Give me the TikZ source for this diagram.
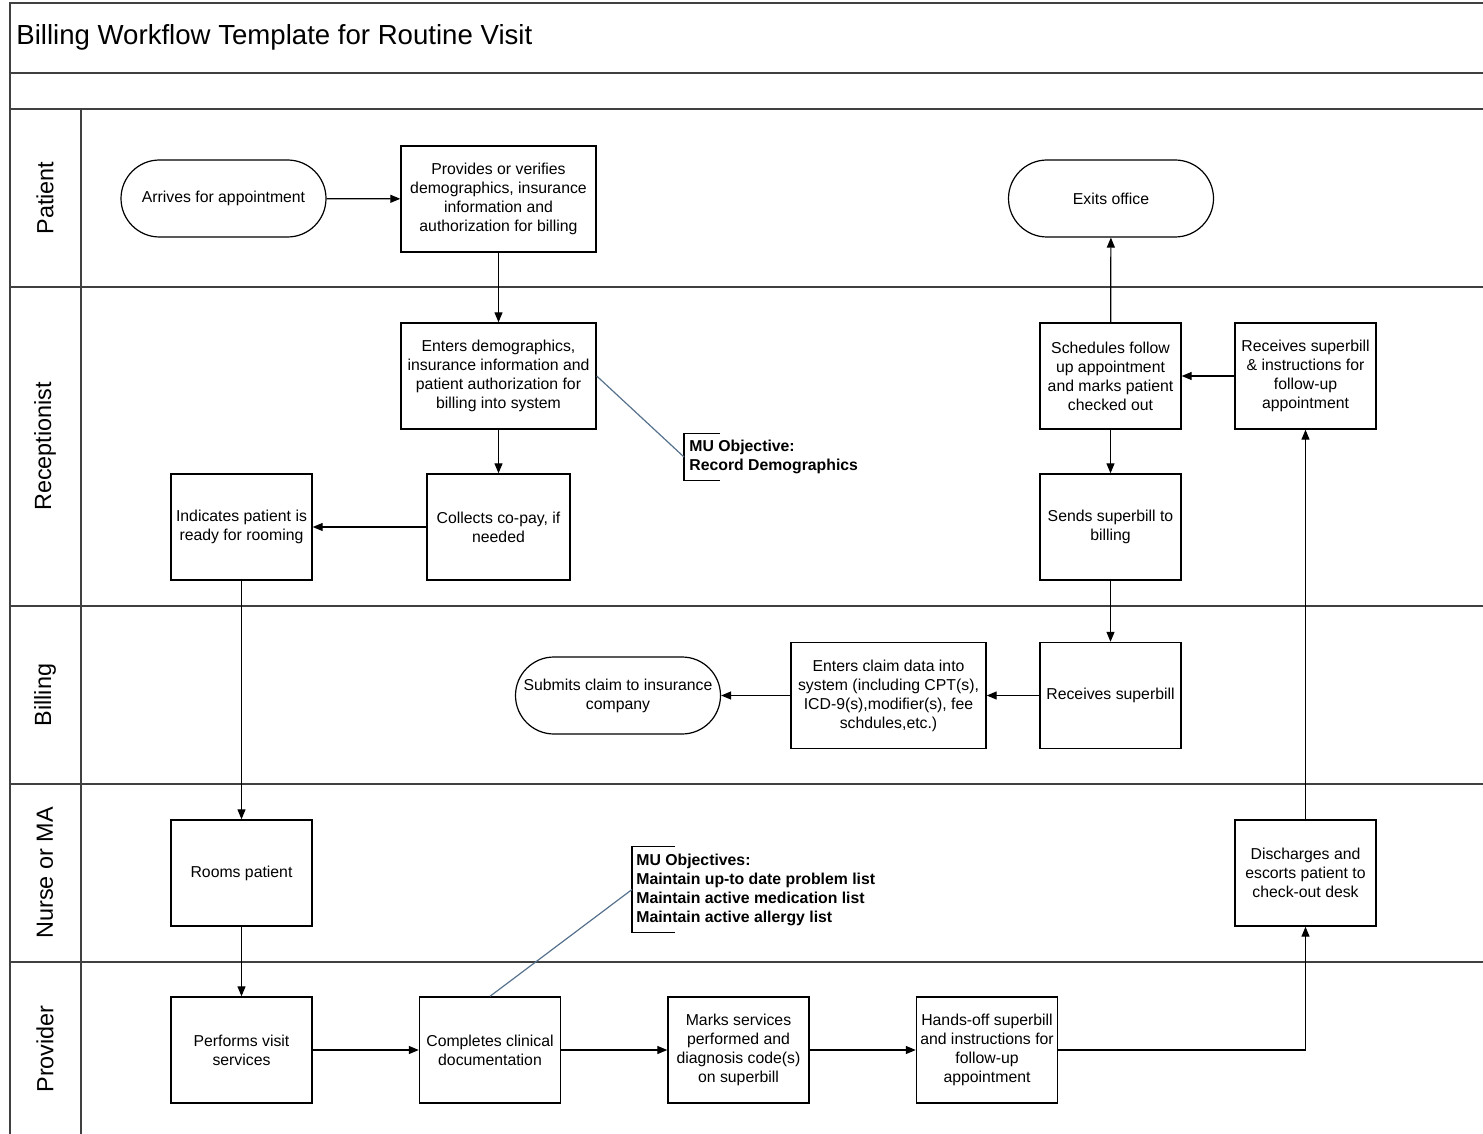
\documentclass[tikz,border=0pt]{standalone}
\usepackage{fontspec}
\setmainfont{Liberation Sans}
\usetikzlibrary{arrows.meta}
\definecolor{noteblue}{HTML}{56718C}
\definecolor{framegray}{HTML}{404040}
\begin{document}
\begin{tikzpicture}[x=0.5pt,y=-0.5pt,
  every node/.style={font=\fontsize{7.9}{9.5}\selectfont, align=center, inner sep=0pt},
  box/.style={draw, line width=0.7pt, minimum width=70.5pt, minimum height=53pt},
  wbox/.style={box, minimum width=97.5pt},
  term/.style={draw, line width=0.6pt, rounded corners=19.25pt, minimum width=102.5pt, minimum height=38.5pt},
  flow/.style={line width=0.6pt, -{Triangle[length=5pt,width=4pt]}},
  frame/.style={line width=1pt, framegray},
  lanelabel/.style={rotate=90, font=\fontsize{11.7}{14}\selectfont},
  note/.style={font=\bfseries\fontsize{7.9}{9.5}\selectfont, align=left, anchor=west},
  noteline/.style={line width=0.6pt, noteblue},
  bracket/.style={line width=0.7pt}
]
\useasboundingbox (0,0) rectangle (1483,1134);

% frame and lanes
\draw[frame] (1483,3) -- (10,3) -- (10,1134);
\draw[frame] (10,73) -- (1483,73);
\draw[frame] (10,109) -- (1483,109);
\draw[frame] (10,287) -- (1483,287);
\draw[frame] (10,606) -- (1483,606);
\draw[frame] (10,784) -- (1483,784);
\draw[frame] (10,962) -- (1483,962);
\draw[frame] (81,109) -- (81,1134);

\node[anchor=west, font=\fontsize{13.8}{16}\selectfont] (title) at (16,37) {Billing Workflow Template for Routine Visit};

\node[lanelabel] (lp) at (45,198) {Patient};
\node[lanelabel] (lr) at (45,446.5) {Receptionist};
\node[lanelabel] (lb) at (45,695) {Billing};
\node[lanelabel] (ln) at (45,873) {Nurse or MA};
\node[lanelabel] (lv) at (45,1049) {Provider};

% Patient lane
\node[term] (arr) at (223.5,198.5) {Arrives for appointment};
\node[wbox] (prov) at (498.5,199) {Provides or verifies\\demographics, insurance\\information and\\authorization for billing};
\node[term] (exit) at (1111,198.5) {Exits office};

% Receptionist lane
\node[wbox] (ent) at (498.5,376) {Enters demographics,\\insurance information and\\patient authorization for\\billing into system};
\node[box, minimum width=71.5pt] (col) at (498.5,527) {Collects co-pay, if\\needed};
\node[box] (ind) at (241.5,527) {Indicates patient is\\ready for rooming};
\node[box] (sch) at (1110.5,376) {Schedules follow\\up appointment\\and marks patient\\checked out};
\node[box] (rcv) at (1305.5,376) {Receives superbill\\\& instructions for\\follow-up\\appointment};
\node[box] (snd) at (1110.5,527) {Sends superbill to\\billing};
\node[note, minimum height=23pt, inner xsep=2.5pt] (mu1) at (684,457) {MU Objective:\\Record Demographics};

% Billing lane
\node[box] (rsb) at (1110.5,695.5) {Receives superbill};
\node[wbox] (ecd) at (888.5,695.5) {Enters claim data into\\system (including CPT(s),\\ICD-9(s),modifier(s), fee\\schdules,etc.)};
\node[term] (sub) at (618,695.5) {Submits claim to insurance\\company};

% Nurse lane
\node[box] (room) at (241.5,873) {Rooms patient};
\node[box] (dis) at (1305.5,873) {Discharges and\\escorts patient to\\check-out desk};
\node[note, minimum height=42.5pt, inner xsep=2pt] (mu2) at (632,889.5) {MU Objectives:\\Maintain up-to date problem list\\Maintain active medication list\\Maintain active allergy list};

% Provider lane
\node[box] (perf) at (241.5,1050) {Performs visit\\services};
\node[box] (comp) at (490,1050) {Completes clinical\\documentation};
\node[box] (mark) at (738.5,1050) {Marks services\\performed and\\diagnosis code(s)\\on superbill};
\node[box] (hand) at (987,1050) {Hands-off superbill\\and instructions for\\follow-up\\appointment};

% note brackets
\draw[bracket] ([xshift=18pt]mu1.north west) -- (mu1.north west) -- (mu1.south west) -- ([xshift=18pt]mu1.south west);
\draw[bracket] ([xshift=21.5pt]mu2.north west) -- (mu2.north west) -- (mu2.south west) -- ([xshift=21.5pt]mu2.south west);
\draw[noteline] (ent.east) -- (mu1.west);
\draw[noteline] (comp.north) -- (mu2.west);

% flows
\draw[flow] (arr) -- (prov);
\draw[flow] (prov) -- (ent);
\draw[flow] (ent) -- (col);
\draw[flow] (col) -- (ind);
\draw[flow] (ind) -- (room);
\draw[flow] (room) -- (perf);
\draw[flow] (perf) -- (comp);
\draw[flow] (comp) -- (mark);
\draw[flow] (mark) -- (hand);
\draw[flow] (hand.east) -| (dis.south);
\draw[flow] (dis) -- (rcv);
\draw[flow] (rcv) -- (sch);
\draw[flow] (sch) -- (exit);
\draw[flow] (sch) -- (snd);
\draw[flow] (snd) -- (rsb);
\draw[flow] (rsb) -- (ecd);
\draw[flow] (ecd) -- (sub);
\end{tikzpicture}
\end{document}
